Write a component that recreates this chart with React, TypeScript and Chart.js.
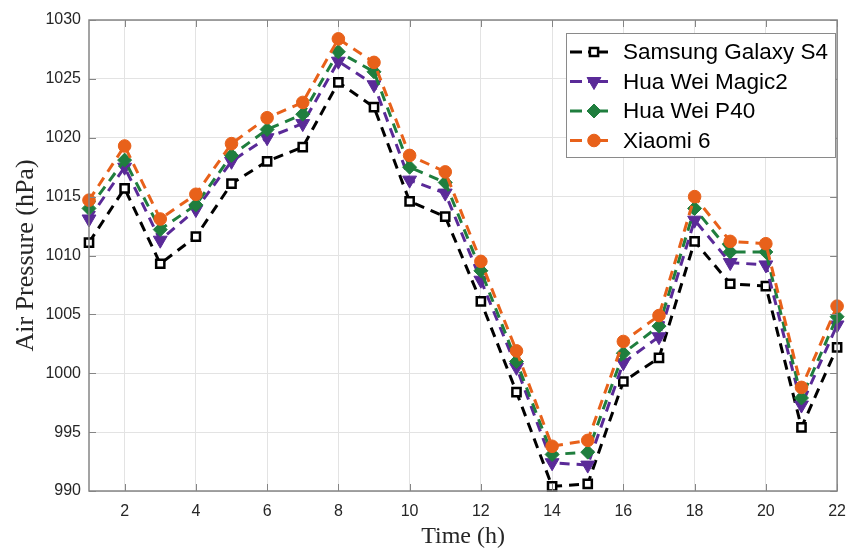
import React, { useEffect, useRef } from "react";
import { Chart, registerables } from "chart.js";

Chart.register(...registerables);

const hours = [1, 2, 3, 4, 5, 6, 7, 8, 9, 10, 11, 12, 13, 14, 15, 16, 17, 18, 19, 20, 21, 22];
const xTickValues = [2, 4, 6, 8, 10, 12, 14, 16, 18, 20, 22];
const yMin = 990;
const yMax = 1030;
const yStep = 5;

const seriesNames = ["Samsung Galaxy S4", "Hua Wei Magic2", "Hua Wei P40", "Xiaomi 6"];

const samsung = [1011.1, 1015.7, 1009.3, 1011.6, 1016.1, 1018.0, 1019.2, 1024.7, 1022.6, 1014.6, 1013.3, 1006.1, 998.4, 990.4, 990.6, 999.3, 1001.3, 1011.2, 1007.6, 1007.4, 995.4, 1002.2];
const magic2 = [1013.1, 1017.5, 1011.3, 1013.9, 1018.0, 1020.0, 1021.2, 1026.5, 1024.5, 1016.4, 1015.3, 1007.9, 1000.5, 992.4, 992.2, 1000.9, 1003.1, 1013.0, 1009.4, 1009.2, 997.3, 1004.1];
const p40 = [1014.0, 1018.1, 1012.2, 1014.3, 1018.5, 1020.7, 1022.0, 1027.3, 1025.6, 1017.5, 1016.2, 1008.7, 1001.0, 993.1, 993.3, 1001.7, 1004.0, 1014.0, 1010.3, 1010.3, 997.9, 1004.8];
const xiaomi = [1014.7, 1019.3, 1013.1, 1015.2, 1019.5, 1021.7, 1023.0, 1028.4, 1026.4, 1018.5, 1017.1, 1009.5, 1001.9, 993.8, 994.3, 1002.7, 1004.9, 1015.0, 1011.2, 1011.0, 998.8, 1005.7];

const seriesValues = [samsung, magic2, p40, xiaomi];
const seriesColors = ["#000000", "#5a2a98", "#1f7e3e", "#e8611a"];
const AXIS_COLOR = "#858585";
const TEXT_COLOR = "#262626";

type Marker = { style: string; radius: number; rotation: number; fill: string; stroke: string; bw: number };
const markers: Marker[] = [
  { style: "rect", radius: 5.8, rotation: 0, fill: "#ffffff", stroke: "#000000", bw: 2.5 },
  { style: "triangle", radius: 8, rotation: 180, fill: seriesColors[1], stroke: seriesColors[1], bw: 1 },
  { style: "rectRot", radius: 7, rotation: 0, fill: seriesColors[2], stroke: seriesColors[2], bw: 1 },
  { style: "circle", radius: 6.3, rotation: 0, fill: seriesColors[3], stroke: seriesColors[3], bw: 1 },
];

function drawMarker(ctx: CanvasRenderingContext2D, m: Marker, x: number, y: number) {
  ctx.save();
  ctx.setLineDash([]);
  ctx.fillStyle = m.fill;
  ctx.strokeStyle = m.stroke;
  ctx.lineWidth = m.bw;
  ctx.beginPath();
  const r = m.radius;
  if (m.style === "rect") {
    const s = Math.SQRT1_2 * r;
    ctx.rect(x - s, y - s, 2 * s, 2 * s);
  } else if (m.style === "triangle") {
    let rad = (m.rotation * Math.PI) / 180;
    ctx.moveTo(x + Math.sin(rad) * r, y - Math.cos(rad) * r);
    rad += (2 * Math.PI) / 3;
    ctx.lineTo(x + Math.sin(rad) * r, y - Math.cos(rad) * r);
    rad += (2 * Math.PI) / 3;
    ctx.lineTo(x + Math.sin(rad) * r, y - Math.cos(rad) * r);
    ctx.closePath();
  } else if (m.style === "rectRot") {
    ctx.moveTo(x, y - r);
    ctx.lineTo(x + r, y);
    ctx.lineTo(x, y + r);
    ctx.lineTo(x - r, y);
    ctx.closePath();
  } else {
    ctx.arc(x, y, r, 0, Math.PI * 2);
  }
  ctx.fill();
  ctx.stroke();
  ctx.restore();
}

const frameAndLegend = {
  id: "frameAndLegend",
  afterDatasetsDraw(chart: any) {
    const ctx: CanvasRenderingContext2D = chart.ctx;
    const a = chart.chartArea;
    const xs = chart.scales.x;
    const ys = chart.scales.y;
    ctx.save();
    ctx.strokeStyle = AXIS_COLOR;
    ctx.lineWidth = 1.5;
    ctx.setLineDash([]);
    ctx.strokeRect(a.left, a.top, a.right - a.left, a.bottom - a.top);
    const tl = 7;
    ctx.lineWidth = 1;
    ctx.beginPath();
    for (const v of xTickValues) {
      const px = Math.round(xs.getPixelForValue(v)) + 0.5;
      ctx.moveTo(px, a.bottom);
      ctx.lineTo(px, a.bottom - tl);
      ctx.moveTo(px, a.top);
      ctx.lineTo(px, a.top + tl);
    }
    for (let v = yMin; v <= yMax; v += yStep) {
      const py = Math.round(ys.getPixelForValue(v)) + 0.5;
      ctx.moveTo(a.left, py);
      ctx.lineTo(a.left + tl, py);
      ctx.moveTo(a.right, py);
      ctx.lineTo(a.right - tl, py);
    }
    ctx.stroke();

    // legend
    const bx = 566, by = 33, bw = 269, bh = 124;
    ctx.fillStyle = "#ffffff";
    ctx.fillRect(bx, by, bw, bh);
    ctx.strokeStyle = "#8a8a8a";
    ctx.lineWidth = 1;
    ctx.strokeRect(bx + 0.5, by + 0.5, bw, bh);
    const rowY = [52, 81.5, 111, 140.5];
    ctx.font = "22.5px 'Liberation Sans', Arial, sans-serif";
    ctx.textBaseline = "middle";
    ctx.textAlign = "left";
    for (let i = 0; i < seriesNames.length; i++) {
      const y = rowY[i];
      ctx.strokeStyle = seriesColors[i];
      ctx.lineWidth = 3;
      ctx.beginPath();
      ctx.moveTo(570, y);
      ctx.lineTo(582, y);
      ctx.moveTo(588, y);
      ctx.lineTo(608, y);
      ctx.stroke();
      drawMarker(ctx, markers[i], 594, y);
      ctx.fillStyle = "#000000";
      ctx.fillText(seriesNames[i], 623, y + 1);
    }
    ctx.restore();
  },
};

export default function App() {
  const ref = useRef<HTMLCanvasElement | null>(null);

  useEffect(() => {
    if (!ref.current) return;
    const datasets = seriesNames.map((name, i) => ({
      label: name,
      data: hours.map((h, k) => ({ x: h, y: seriesValues[i][k] })),
      borderColor: seriesColors[i],
      backgroundColor: markers[i].fill,
      pointBackgroundColor: markers[i].fill,
      pointBorderColor: markers[i].stroke,
      pointBorderWidth: markers[i].bw,
      pointStyle: markers[i].style,
      pointRadius: markers[i].radius,
      pointRotation: markers[i].rotation,
      borderWidth: 3,
      borderDash: [10, 7],
      tension: 0,
      fill: false,
      clip: false as any,
      order: seriesNames.length - i,
    }));

    const chart = new Chart(ref.current, {
      type: "line",
      data: { datasets },
      options: {
        animation: false,
        responsive: false,
        devicePixelRatio: 1,
        layout: { padding: { top: 20, right: 9, left: 0, bottom: 0 } },
        plugins: { legend: { display: false }, tooltip: { enabled: false } },
        scales: {
          x: {
            type: "linear",
            min: 1,
            max: 22,
            afterBuildTicks: (scale: any) => {
              scale.ticks = xTickValues.map((v) => ({ value: v }));
            },
            afterFit: (scale: any) => {
              scale.height = 59;
            },
            grid: { color: "#e3e3e3", lineWidth: 1, drawTicks: false },
            border: { display: false },
            ticks: {
              color: TEXT_COLOR,
              font: { family: "'Liberation Sans', Arial, sans-serif", size: 16 },
              padding: 11,
              maxRotation: 0,
              autoSkip: false,
              callback: (v: any) => String(v),
            },
            title: {
              display: true,
              text: "Time (h)",
              color: TEXT_COLOR,
              font: { family: "'Liberation Serif', 'Times New Roman', serif", size: 24, lineHeight: 1 },
              padding: { top: 0, bottom: 1 },
            },
          },
          y: {
            type: "linear",
            min: yMin,
            max: yMax,
            afterFit: (scale: any) => {
              scale.width = 89;
            },
            grid: { color: "#e3e3e3", lineWidth: 1, drawTicks: false },
            border: { display: false },
            ticks: {
              stepSize: yStep,
              color: TEXT_COLOR,
              font: { family: "'Liberation Sans', Arial, sans-serif", size: 16 },
              padding: 8,
              callback: (v: any) => String(v),
            },
            title: {
              display: true,
              text: "Air Pressure (hPa)",
              color: TEXT_COLOR,
              font: { family: "'Liberation Serif', 'Times New Roman', serif", size: 26, lineHeight: 1.2 },
              padding: { top: 11, bottom: 0 },
            },
          },
        },
      },
      plugins: [frameAndLegend],
    } as any);

    return () => chart.destroy();
  }, []);

  return (
    <div style={{ position: "absolute", left: 0, top: 0, width: 857, height: 550, background: "#ffffff" }}>
      <canvas ref={ref} width={857} height={550} style={{ display: "block", width: 857, height: 550 }} />
    </div>
  );
}
